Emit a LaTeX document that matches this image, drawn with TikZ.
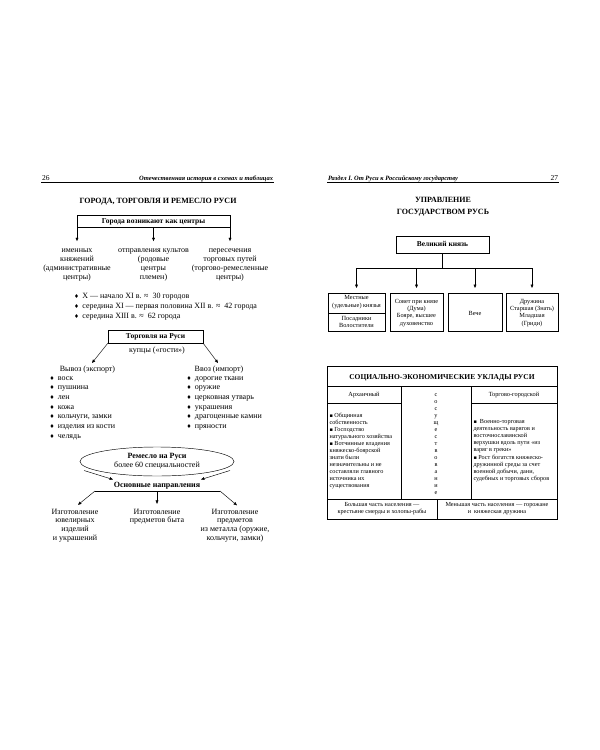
\documentclass[tikz,border=0pt]{standalone}
\usepackage{fontspec}
\setmainfont{Liberation Serif}
\newfontfamily\symf{DejaVu Sans}
\usetikzlibrary{arrows.meta,shapes.geometric}
\newcommand{\mydia}{{\symf\fontsize{5.5}{5.5}\selectfont ♦}\hspace{3.5pt}}
\newcommand{\mysq}{{\symf\fontsize{5}{5}\selectfont ▪}}
\newcommand\mlc[2]{\setbox\strutbox\hbox{\vrule height\dimexpr#1*65/100\relax depth\dimexpr#1*35/100\relax width0pt}\begin{tabular}[t]{@{}c@{}}#2\end{tabular}}
\newcommand\mll[2]{\setbox\strutbox\hbox{\vrule height\dimexpr#1*65/100\relax depth\dimexpr#1*35/100\relax width0pt}\begin{tabular}[t]{@{}l@{}}#2\end{tabular}}
\begin{document}
\begin{tikzpicture}[x=1pt,y=-1pt,
  every node/.style={inner sep=0pt, outer sep=0pt},
  one/.style={font=\fontsize{8}{9}\selectfont, anchor=base},
  bone/.style={font=\fontsize{8}{9}\selectfont\bfseries, anchor=base},
  bx/.style={draw, line width=0.5pt, font=\fontsize{7.5}{9}\selectfont\bfseries,
    text height=5.5pt, text depth=1.5pt},
  rbox/.style={draw, line width=0.5pt},
  arr/.style={-{Triangle[length=3.4pt,width=2.8pt]}, line width=0.45pt},
  ln/.style={line width=0.45pt},
  hdr/.style={font=\fontsize{6.5}{8}\selectfont\bfseries\itshape},
  pnum/.style={font=\fontsize{7.5}{8}\selectfont},
  ttl/.style={font=\fontsize{8}{12}\selectfont\bfseries, anchor=base},
  sm/.style={font=\fontsize{6.3}{7.5}\selectfont, anchor=base},
  tb/.style={font=\fontsize{6.2}{7}\selectfont, anchor=base},
]
\useasboundingbox (0,0) rectangle (600,750);

% ================= LEFT PAGE =================
\node[pnum, anchor=base west] (p26) at (42,180) {26};
\node[hdr, anchor=base east] (h26) at (273,180) {Отечественная история в схемах и таблицах};
\draw[ln] (41,182.5) -- (274,182.5);
\node[ttl] (t1) at (158,203.8) {ГОРОДА, ТОРГОВЛЯ И РЕМЕСЛО РУСИ};

\node[bx, minimum width=153pt, minimum height=12pt] (gor) at (153.5,221) {Города возникают как центры};
\node[one] (c1) at (77,252) {\mlc{9pt}{именных\\княжений\\(административные\\центры)}};
\node[one] (c2) at (153.5,252) {\mlc{9pt}{отправления культов\\(родовые\\центры\\племен)}};
\node[one] (c3) at (230,252) {\mlc{9pt}{пересечения\\торговых путей\\(торгово-ремесленные\\центры)}};
\draw[arr] (gor.north west) -- ([yshift=5pt]c1.north);
\draw[arr] (gor.south) -- ([yshift=5pt]c2.north);
\draw[arr] (gor.north east) -- ([yshift=5pt]c3.north);

\node[one, anchor=base west] (yrs) at (74,298.7)
 {\mll{10pt}{\mydia X — начало XI в. ≈\enspace 30 городов\\
  \mydia середина XI — первая половина XII в. ≈\enspace 42 города\\
  \mydia середина XIII в. ≈\enspace 62 города}};

\node[bx, minimum width=95pt, minimum height=13pt] (trd) at (155.5,336.5) {Торговля на Руси};
\node[one] (kup) at (157,352.5) {купцы («гости»)};
\node[one] (exp) at (87.5,371.2) {Вывоз (экспорт)};
\node[one] (imp) at (219,371.2) {Ввоз (импорт)};
\coordinate (ea) at (92,363);
\coordinate (ia) at (218,363);
\draw[arr] (trd.south west) -- (ea);
\draw[arr] (trd.south east) -- (ia);

\node[one, anchor=base west] (expl) at (49.5,380.3)
 {\mll{9.67pt}{\mydia воск\\ \mydia пушнина\\ \mydia лен\\ \mydia кожа\\ \mydia кольчуги, замки\\ \mydia изделия из кости\\ \mydia челядь}};
\node[one, anchor=base west] (impl) at (186.5,380.3)
 {\mll{9.67pt}{\mydia дорогие ткани\\ \mydia оружие\\ \mydia церковная утварь\\ \mydia украшения\\ \mydia драгоценные камни\\ \mydia пряности}};

\node[draw, ellipse, ln, minimum width=154pt, minimum height=29pt] (rem) at (157,461.5) {};
\node[bone] (rem1) at (157,458.5) {Ремесло на Руси};
\node[one] (rem2) at (157,467.8) {более 60 специальностей};
\node[bone] (osn) at (157,487) {Основные направления};
\coordinate (rl) at (84,470.5);
\coordinate (rr) at (230,470.5);
\coordinate (al) at (113,479.5);
\coordinate (ar) at (201,479.5);
\draw[arr] (rl) -- (al);
\draw[arr] (rr) -- (ar);
\coordinate (ol) at (95,491);
\coordinate (om) at (157,491);
\coordinate (or) at (220,491);
\draw[ln] (ol) -- (or);

\node[one] (m1) at (75,514) {\mlc{8.7pt}{Изготовление\\ювелирных\\изделий\\и украшений}};
\node[one] (m2) at (157,514) {\mlc{8.7pt}{Изготовление\\предметов быта}};
\node[one] (m3) at (235,514) {\mlc{8.7pt}{Изготовление\\предметов\\из металла (оружие,\\кольчуги, замки)}};
\draw[arr] (ol) -- ([xshift=3pt,yshift=3.5pt]m1.north);
\draw[arr] (om) -- ([yshift=4.5pt]m2.north);
\draw[arr] (or) -- ([xshift=2pt,yshift=3pt]m3.north);

% ================= RIGHT PAGE =================
\node[hdr, anchor=base west] (h27) at (328,180) {Раздел I. От Руси к Российскому государству};
\node[pnum, anchor=base east] (p27) at (558,180) {27};
\draw[ln] (327,182.5) -- (559,182.5);
\node[ttl] (t2a) at (443,202) {УПРАВЛЕНИЕ};
\node[ttl] (t2b) at (443,214) {ГОСУДАРСТВОМ РУСЬ};

\node[bx, minimum width=93pt, minimum height=17pt] (vk) at (442.5,244.5) {Великий князь};

\node[rbox, minimum width=57pt, minimum height=38pt] (b1) at (356.5,312) {};
\node[rbox, minimum width=53pt, minimum height=38pt] (b2) at (416.5,312) {};
\node[rbox, minimum width=54pt, minimum height=38pt] (b3) at (475,312) {};
\node[rbox, minimum width=52pt, minimum height=38pt] (b4) at (532,312) {};
\draw[line width=0.5pt] (b1.west) ++(0,1) coordinate (s1) -- (s1 -| b1.east);

\node[sm] (b1t) at (356.5,299.5) {\mlc{7.7pt}{Местные\\(удельные) князья}};
\node[sm] (b1b) at (356.5,320.5) {\mlc{7.3pt}{Посадники\\Волостители}};
\node[sm] (b2t) at (416.5,303.2) {\mlc{7.3pt}{Совет при князе\\(Дума)\\Бояре, высшее\\духовенство}};
\node[sm] (b3t) at (475,315.7) {Вече};
\node[sm] (b4t) at (532,303.2) {\mlc{7.3pt}{Дружина\\Старшая (Знать)\\Младшая\\(Гриди)}};

\coordinate (vj) at (442.5,268);
\draw[ln] (vk.south) -- (vj);
\draw[ln] (b1.north |- vj) -- (b4.north |- vj);
\draw[arr] (b1.north |- vj) -- ([yshift=5pt]b1.north);
\draw[arr] (b2.north |- vj) -- ([yshift=5pt]b2.north);
\draw[arr] (b3.north |- vj) -- ([yshift=5pt]b3.north);
\draw[arr] (b4.north |- vj) -- ([yshift=5pt]b4.north);

% ---- table ----
\draw[line width=1pt] (327.5,366.5) rectangle (557,519);
\draw[line width=0.6pt] (327.5,386) -- (557,386);
\draw[line width=0.6pt] (401,386) -- (401,499);
\draw[line width=0.6pt] (471,386) -- (471,499);
\draw[line width=0.6pt] (327.5,403) -- (401,403);
\draw[line width=0.6pt] (471,403) -- (557,403);
\draw[line width=0.6pt] (327.5,499) -- (557,499);
\draw[line width=0.6pt] (437,499) -- (437,519);

\node[font=\fontsize{7.5}{9}\selectfont\bfseries, anchor=base] (tt) at (442,379.6) {СОЦИАЛЬНО-ЭКОНОМИЧЕСКИЕ УКЛАДЫ РУСИ};
\node[font=\fontsize{6.3}{7}\selectfont, anchor=base] (ha) at (364,396.8) {Архаичный};
\node[font=\fontsize{6.3}{7}\selectfont, anchor=base] (ht) at (514,396.8) {Торгово-городской};

\node[tb] (vert) at (436,396.5)
 {\mlc{7pt}{с\\о\\с\\у\\щ\\е\\с\\т\\в\\о\\в\\а\\н\\и\\е}};

\node[tb, anchor=base west] (lb) at (329.5,417.5)
 {\mll{7pt}{\mysq\ Общинная\\собственность\\\mysq\ Господство\\натурального хозяйства\\\mysq\ Вотчинные владения\\княжеско-боярской\\знати были\\незначительны и не\\составляли главного\\источника их\\существования}};
\node[tb, anchor=base west] (rb) at (473.5,423.5)
 {\mll{7.1pt}{\mysq\ \ Военно-торговая\\деятельность варягов и\\восточнославянской\\верхушки вдоль пути «из\\варяг в греки»\\\mysq\ Рост богатств княжеско-\\дружинной среды за счет\\военной добычи, дани,\\судебных и торговых сборов}};

\node[tb] (bl) at (382,506.2) {\mlc{7.5pt}{Большая часть населения —\\крестьяне смерды и холопы-рабы}};
\node[tb] (br) at (497,506.2) {\mlc{7.5pt}{Меньшая часть населения — горожане\\и\ \ княжеская дружина}};
\end{tikzpicture}
\end{document}
